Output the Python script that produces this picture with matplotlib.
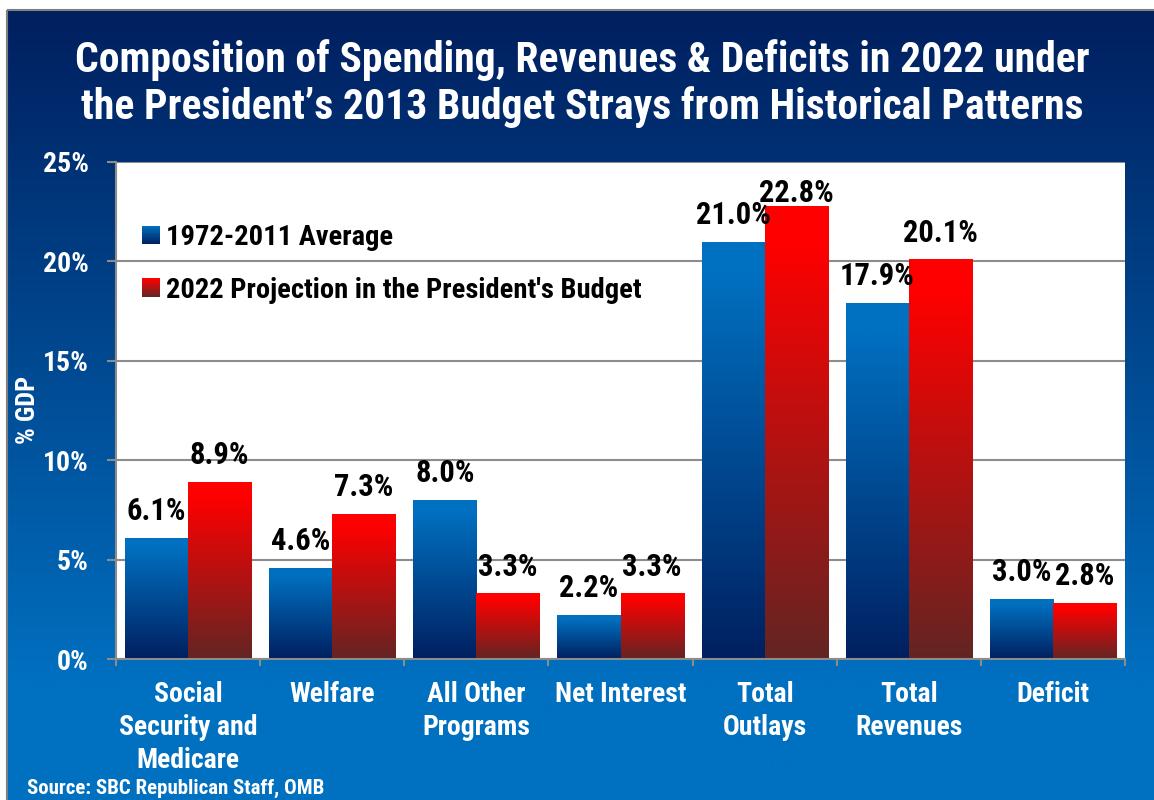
import numpy as np
import matplotlib
matplotlib.use("Agg")
import matplotlib.pyplot as plt
from matplotlib.colors import to_rgb
from matplotlib.patches import Rectangle
from matplotlib.legend_handler import HandlerBase

# ---- data -------------------------------------------------------------
categories = ["Social\nSecurity and\nMedicare", "Welfare", "All Other\nPrograms",
              "Net Interest", "Total\nOutlays", "Total\nRevenues", "Deficit"]
avg_1972_2011 = [6.1, 4.6, 8.0, 2.2, 21.0, 17.9, 3.0]
proj_2022 = [8.9, 7.3, 3.3, 3.3, 22.8, 20.1, 2.8]
series_names = ["1972-2011 Average", "2022 Projection in the President's Budget"]
y_ticks = [0, 5, 10, 15, 20, 25]
y_tick_labels = ["0%", "5%", "10%", "15%", "20%", "25%"]

title_lines = ["Composition of Spending, Revenues & Deficits in 2022 under",
               "the President\u2019s 2013 Budget Strays from Historical Patterns"]
source_text = "Source: SBC Republican Staff, OMB"

# ---- style ------------------------------------------------------------
FONT = ["Roboto Condensed", "Liberation Sans", "DejaVu Sans"]
plt.rcParams["font.family"] = FONT
plt.rcParams["font.weight"] = "bold"

BLUE_TOP, BLUE_BOT = "#0070C0", "#002060"
RED_TOP, RED_BOT = "#FF0000", "#632523"
GRID = "#8c8c8c"

W, H = 1154, 800
fig = plt.figure(figsize=(W / 100, H / 100), dpi=100, facecolor="white")

# ---- blue gradient panel behind everything ----------------------------
bg = fig.add_axes([0, 0, 1, 1], zorder=-10)
rows = np.arange(H)
t = np.clip((rows - 10) / 670.0, 0, 1)
c0, c1 = np.array(to_rgb("#002060")), np.array(to_rgb("#0070C0"))
grad = c0[None, :] * (1 - t[:, None]) + c1[None, :] * t[:, None]
bg.imshow(np.repeat(grad[:, None, :], 2, axis=1), extent=[7, W, H, 10],
          aspect="auto", interpolation="bilinear")
bg.add_patch(Rectangle((7, 10), W, H, fill=False, edgecolor="#7f7f7f", lw=1.5))
bg.set_xlim(0, W)
bg.set_ylim(H, 0)
bg.axis("off")

# ---- chart axes -------------------------------------------------------
ax = fig.add_axes([116 / W, 1 - 659 / H, (1125 - 116) / W, (659 - 162) / H])
ax.set_facecolor("white")

x = np.arange(len(categories))
bw = 0.4375


def bar_gradient(top, bot, n=256):
    s = np.linspace(0, 1, n)
    s = np.clip((s - 0.08) / 0.92, 0, 1)
    a, b = np.array(to_rgb(top)), np.array(to_rgb(bot))
    g = a[None, :] * (1 - s[:, None]) + b[None, :] * s[:, None]
    return np.repeat(g[:, None, :], 2, axis=1)


def gradient_bars(xpos, values, top, bot):
    bars = ax.bar(xpos, values, bw, color="none", edgecolor="none", zorder=2)
    img = bar_gradient(top, bot)
    for patch in bars.patches:
        x0, y0 = patch.get_x(), patch.get_y()
        w, h = patch.get_width(), patch.get_height()
        im = ax.imshow(img, extent=[x0, x0 + w, y0, y0 + h], aspect="auto",
                       interpolation="bilinear", zorder=2)
        im.set_clip_path(patch)
    return bars


bars_a = gradient_bars(x - bw / 2, avg_1972_2011, BLUE_TOP, BLUE_BOT)
bars_b = gradient_bars(x + bw / 2, proj_2022, RED_TOP, RED_BOT)

# value labels above bars
for bars, vals in ((bars_a, avg_1972_2011), (bars_b, proj_2022)):
    for patch, v in zip(bars.patches, vals):
        cx = patch.get_x() + patch.get_width() / 2
        ax.text(cx, min(v + 0.9, 23.0), f"{v:.1f}%", ha="center", va="baseline",
                fontsize=22, color="black", zorder=5)

ax.set_xlim(-0.5, len(categories) - 0.5)
ax.set_ylim(0, 25)

# grid and spines
ax.set_yticks(y_ticks)
ax.set_yticklabels(y_tick_labels)
ax.yaxis.grid(True, color=GRID, lw=1.5)
ax.set_axisbelow(True)
for side in ("top", "right"):
    ax.spines[side].set_visible(False)
for side in ("left", "bottom"):
    ax.spines[side].set_color(GRID)
    ax.spines[side].set_linewidth(1.5)

ax.tick_params(axis="y", direction="out", length=6.5, width=1.5, color=GRID,
               labelcolor="white", labelsize=20, pad=13)

ax.set_xticks(np.arange(-0.5, len(categories), 1.0))
ax.set_xticklabels([])
ax.tick_params(axis="x", which="major", direction="out", length=5, width=1.5, color=GRID)
ax.set_xticks(x, minor=True)
ax.set_xticklabels(categories, minor=True)
ax.tick_params(axis="x", which="minor", length=0, labelcolor="white",
               labelsize=20, pad=16)
for lab in ax.get_xticklabels(minor=True):
    lab.set_linespacing(1.28)


# ---- legend with gradient swatches ------------------------------------
class GradientHandler(HandlerBase):
    def __init__(self, top, bot, n=24):
        super().__init__()
        self.top = np.array(to_rgb(top))
        self.bot = np.array(to_rgb(bot))
        self.n = n

    def create_artists(self, legend, orig_handle, xdescent, ydescent,
                       width, height, fontsize, trans):
        side = height
        arts = []
        for i in range(self.n):
            s = i / (self.n - 1)
            c = self.bot * (1 - s) + self.top * s
            arts.append(Rectangle((-xdescent, -ydescent + i * side / self.n),
                                  side, side / self.n * 1.05, facecolor=c,
                                  edgecolor="none", transform=trans))
        return arts


h_a = Rectangle((0, 0), 1, 1)
h_b = Rectangle((0, 0), 1, 1)
leg = ax.legend([h_a, h_b], series_names,
                handler_map={h_a: GradientHandler(BLUE_TOP, BLUE_BOT),
                             h_b: GradientHandler(RED_TOP, RED_BOT)},
                loc="upper left", bbox_to_anchor=(26 / 1009, 1 - 62 / 497),
                frameon=False, borderpad=0, borderaxespad=0,
                handlelength=0.6, handleheight=0.62, handletextpad=0.25,
                labelspacing=0.9, prop={"size": 20.5, "weight": "bold"})
for txt in leg.get_texts():
    txt.set_color("black")

# ---- texts around the chart -------------------------------------------
fig.text(582 / W, 1 - 72 / H, title_lines[0], ha="center", va="baseline",
         fontsize=30, color="white")
fig.text(582 / W, 1 - 119 / H, title_lines[1], ha="center", va="baseline",
         fontsize=30, color="white")
fig.text(28 / W, 1 - 410 / H, "% GDP", rotation=90, ha="center", va="center",
         fontsize=19, color="white")
fig.text(27 / W, 1 - 794 / H, source_text, ha="left", va="baseline",
         fontsize=15, color="white")

fig.savefig("out.png", dpi=100, facecolor=fig.get_facecolor())
